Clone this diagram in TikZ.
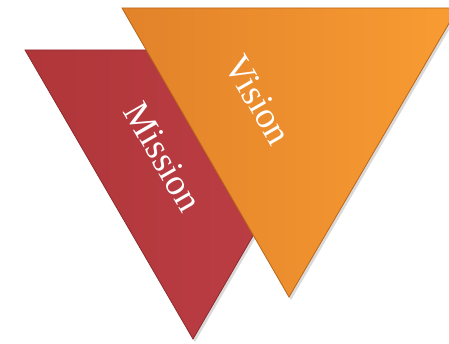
\documentclass[tikz,border=0pt]{standalone}
\usepackage{fontspec}
\setmainfont{Liberation Serif}
\usetikzlibrary{shadows}
\definecolor{redL}{HTML}{B0363A}
\definecolor{redR}{HTML}{BE4046}
\definecolor{redE}{HTML}{8E2A2E}
\definecolor{orL}{HTML}{E2822A}
\definecolor{orR}{HTML}{F99C32}
\definecolor{orE}{HTML}{B8661C}
\begin{document}
\begin{tikzpicture}[x=1pt,y=-1pt,
  tri/.style={line width=0.8pt, drop shadow={shadow xshift=2pt, shadow yshift=-3pt, opacity=0.15, fill=black}},
  lbl/.style={text=white, rotate=-60, font=\fontsize{37}{40}\selectfont, inner sep=0pt}]
\useasboundingbox (0,0) rectangle (449,344);
\clip (0,0) rectangle (449,344);
\path[tri, draw=redE, left color=redL, right color=redR] (25,50) -- (361,50) -- (193,339) -- cycle;
\path[tri, draw=orE, left color=orL, right color=orR] (122,8) -- (458,8) -- (289,297) -- cycle;
\node[lbl] (mission) at (163,157) {Mission};
\node[lbl] (vision) at (258,100) {Vision};
\end{tikzpicture}
\end{document}
